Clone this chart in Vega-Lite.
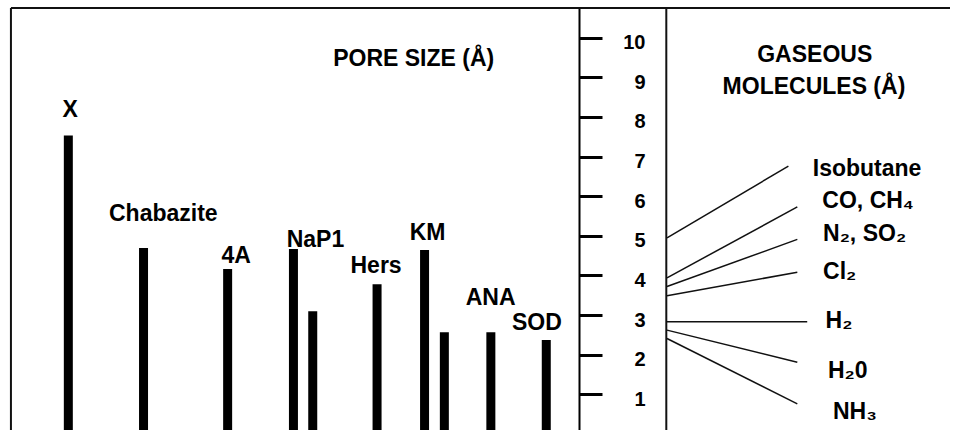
{
  "$schema": "https://vega.github.io/schema/vega-lite/v6.json",
  "width": 955,
  "height": 422,
  "autosize": {"type": "none"},
  "padding": {"left": 0, "right": 0, "top": 8, "bottom": 0},
  "background": "white",
  "config": {
    "view": {"stroke": null},
    "text": {"font": "Liberation Sans", "fontWeight": "bold", "color": "#000"}
  },
  "datasets": {
    "bars": [
      {"zeolite": "X", "p": 6.4, "v": 7.53},
      {"zeolite": "Chabazite", "p": 14.0, "v": 4.69},
      {"zeolite": "4A", "p": 22.5, "v": 4.16},
      {"zeolite": "NaP1 (a)", "p": 29.15, "v": 4.67},
      {"zeolite": "NaP1 (b)", "p": 31.1, "v": 3.10},
      {"zeolite": "Hers", "p": 37.6, "v": 3.78},
      {"zeolite": "KM (a)", "p": 42.4, "v": 4.64},
      {"zeolite": "KM (b)", "p": 44.4, "v": 2.57},
      {"zeolite": "ANA", "p": 49.1, "v": 2.57},
      {"zeolite": "SOD", "p": 54.7, "v": 2.37}
    ],
    "barLabels": [
      {"label": "X", "p": 6.58, "v": 7.99},
      {"label": "Chabazite", "p": 16.0, "v": 5.37},
      {"label": "4A", "p": 23.37, "v": 4.32},
      {"label": "NaP1", "p": 31.37, "v": 4.73},
      {"label": "Hers", "p": 37.5, "v": 4.05},
      {"label": "KM", "p": 42.7, "v": 4.90},
      {"label": "ANA", "p": 49.08, "v": 3.25},
      {"label": "SOD", "p": 53.75, "v": 2.62},
      {"label": "PORE SIZE (Å)", "p": 41.3, "v": 9.29},
      {"label": "GASEOUS", "p": 81.83, "v": 9.39},
      {"label": "MOLECULES (Å)", "p": 81.75, "v": 8.57}
    ],
    "gases": [
      {"gas": "Isobutane", "p": 66.9, "v": 4.95, "p2": 79.17, "v2": 6.76},
      {"gas": "CO, CH₄", "p": 66.9, "v": 3.94, "p2": 80.07, "v2": 5.73},
      {"gas": "N₂, SO₂", "p": 66.9, "v": 3.72, "p2": 80.07, "v2": 4.91},
      {"gas": "Cl₂", "p": 66.9, "v": 3.49, "p2": 80.07, "v2": 4.08},
      {"gas": "H₂", "p": 66.9, "v": 2.83, "p2": 81.07, "v2": 2.83},
      {"gas": "H₂0", "p": 66.9, "v": 2.62, "p2": 80.07, "v2": 1.81},
      {"gas": "NH₃", "p": 66.9, "v": 2.41, "p2": 80.07, "v2": 0.76}
    ],
    "gasLabels": [
      {"label": "Isobutane", "p": 81.63, "v": 6.51},
      {"label": "CO, CH₄", "p": 82.6, "v": 5.70},
      {"label": "N₂, SO₂", "p": 82.67, "v": 4.87},
      {"label": "Cl₂", "p": 82.67, "v": 3.91},
      {"label": "H₂", "p": 82.93, "v": 2.67},
      {"label": "H₂0", "p": 83.17, "v": 1.42},
      {"label": "NH₃", "p": 83.67, "v": 0.38}
    ],
    "frame": [
      {"part": "top", "p": 0.6, "v": 10.75, "p2": 95.5, "v2": 10.75},
      {"part": "left", "p": 0.6, "v": 0.1, "p2": 0.6, "v2": 10.75},
      {"part": "divider", "p": 66.83, "v": 0.1, "p2": 66.83, "v2": 10.75}
    ]
  },
  "encoding": {
    "x": {"field": "p", "type": "quantitative", "scale": {"domain": [0, 95.5], "nice": false, "zero": false}, "axis": null},
    "y": {
      "field": "v", "type": "quantitative",
      "scale": {"domain": [0.1, 10.75], "nice": false, "zero": false},
      "axis": {
        "orient": "right", "offset": -376, "title": null, "grid": false,
        "values": [1, 2, 3, 4, 5, 6, 7, 8, 9, 10],
        "domainColor": "#000", "domainWidth": 2,
        "tickColor": "#000", "tickWidth": 3, "tickSize": 23,
        "labelAlign": "right", "labelBaseline": "middle", "labelPadding": 43, "labelOffset": 5,
        "labelFont": "Liberation Sans", "labelFontWeight": "bold", "labelFontSize": 20, "labelColor": "#000",
        "labelFlush": false, "labelOverlap": false
      }
    }
  },
  "layer": [
    {
      "data": {"name": "frame"},
      "mark": {"type": "rule", "strokeWidth": 2, "color": "#111"},
      "encoding": {"x2": {"field": "p2"}, "y2": {"field": "v2"}}
    },
    {
      "data": {"name": "bars"},
      "mark": {"type": "bar", "width": 9, "color": "#000", "clip": true},
      "encoding": {"y2": {"datum": 0}}
    },
    {
      "data": {"name": "barLabels"},
      "mark": {"type": "text", "align": "center", "baseline": "alphabetic", "fontSize": 23},
      "encoding": {"text": {"field": "label"}}
    },
    {
      "data": {"name": "gases"},
      "mark": {"type": "rule", "strokeWidth": 1.5, "color": "#111"},
      "encoding": {"x2": {"field": "p2"}, "y2": {"field": "v2"}}
    },
    {
      "data": {"name": "gasLabels"},
      "mark": {"type": "text", "align": "left", "baseline": "alphabetic", "fontSize": 23},
      "encoding": {"text": {"field": "label"}}
    }
  ]
}
